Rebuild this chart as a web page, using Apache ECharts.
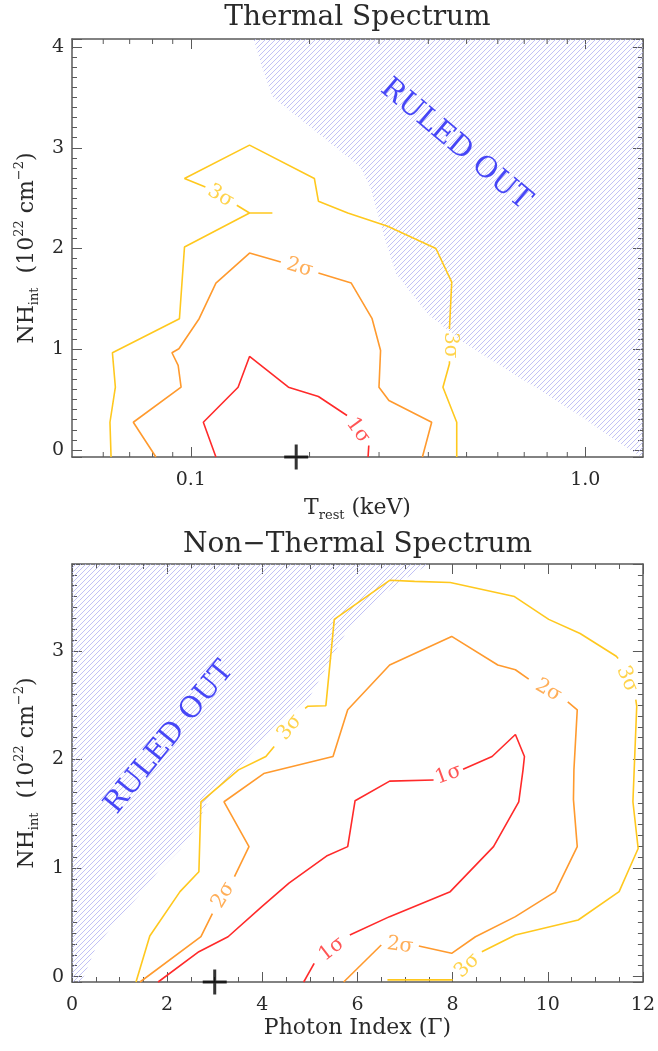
<!DOCTYPE html>
<html>
<head>
<meta charset="utf-8">
<script src="https://cdn.jsdelivr.net/npm/echarts@6.0.0/dist/echarts.min.js"></script>
<style>
html,body{margin:0;padding:0;background:#ffffff;}
#chart{width:658px;height:1051px;}
</style>
</head>
<body>
<div id="chart"></div>
<script>
// ===================== DATA =====================
// ---- Thermal spectrum panel: x = T_rest (keV, log axis), y = NH_int (1e22 cm^-2)
const thermalTRange = [0.05, 1.4];
const thermalNHRange = [-0.07, 4.08];
const thermalMajorT = [0.1, 1.0];
const thermalMajorTLabels = ['0.1', '1.0'];
const thermalMinorT = [0.06, 0.07, 0.08, 0.09, 0.2, 0.3, 0.4, 0.5, 0.6, 0.7, 0.8, 0.9];
const thermalBest = [0.185, -0.07];

const thermal3sigA = [[0.0628,-0.07],[0.0624,0.275],[0.0644,0.623],[0.0633,0.965],[0.0936,1.303],[0.0964,2.015],[0.1409,2.353],[0.161,2.353]];
const thermal3sigB = [[0.1409,2.353],[0.1308,2.43]];
const thermal3sigC = [[0.1089,2.611],[0.0964,2.695],[0.1409,3.026],[0.2057,2.695],[0.2106,2.47],[0.25,2.353],[0.3155,2.22],[0.4181,2.0],[0.4585,1.667],[0.4525,1.2]];
const thermal3sigD = [[0.4525,0.88],[0.4525,0.856],[0.4356,0.623],[0.4721,0.275],[0.4721,-0.07]];
const thermal2sigA = [[0.0816,-0.07],[0.0715,0.275],[0.0945,0.623],[0.0929,0.839],[0.0896,0.965],[0.0933,1.005],[0.105,1.303],[0.1158,1.657],[0.1409,1.955],[0.1691,1.866]];
const thermal2sigB = [[0.2106,1.757],[0.2551,1.657],[0.2881,1.303],[0.3027,0.988],[0.2999,0.623],[0.3178,0.491],[0.4079,0.275],[0.3864,-0.07]];
const thermal1sigA = [[0.1158,-0.07],[0.1076,0.275],[0.1318,0.623],[0.1409,0.928],[0.1768,0.623],[0.2106,0.531],[0.2489,0.342]];
const thermal1sigB = [[0.2826,0.044],[0.2814,-0.07]];

const thermalLabelText = ['3σ', '3σ', '2σ', '1σ'];
const thermalLabelPos = [[0.119,2.52],[0.455,1.04],[0.1888,1.811],[0.2652,0.193]];
const thermalLabelLevel = [3, 3, 2, 1];

const thermalRuledT  = [0.1443,0.1515,0.161,0.182,0.2106,0.2692,0.2859,0.3042,0.3114,0.3312,0.398,0.4839,0.6176,0.770,0.983,1.196,1.39,1.4,1.4];
const thermalRuledNH = [4.08,3.804,3.506,3.341,3.142,2.81,2.595,2.214,2.08,1.751,1.353,1.087,0.822,0.59,0.325,0.093,-0.07,-0.07,4.08];
const thermalRuledLabelPos = [0.469, 3.03];

// ---- Non-thermal spectrum panel: x = photon index, y = NH_int
const nonthGRange = [0, 12];
const nonthNHRange = [-0.05, 3.8];
const nonthBest = [3.0, -0.05];

const nonth3sigA = [[1.345,-0.05],[1.635,0.374],[2.27,0.782],[2.667,0.966],[2.71,1.61],[3.50,1.904],[4.075,2.027],[4.25,2.12]];
const nonth3sigB = [[4.9,2.47],[4.958,2.49],[5.336,2.495],[5.513,3.29],[6.677,3.65],[7.2,3.64],[7.95,3.63],[9.30,3.50],[10.02,3.29],[10.68,3.16],[11.44,2.95],[11.48,2.93]];
const nonth3sigC = [[11.85,2.55],[11.87,2.49],[11.79,1.61],[11.90,1.18],[11.70,0.982],[11.50,0.782],[10.64,0.521],[9.32,0.383],[8.615,0.229]];
const nonth3sigD = [[8.0,-0.03],[6.63,-0.03]];
const nonth2sigA = [[1.43,-0.05],[2.71,0.367],[2.95,0.58]];
const nonth2sigB = [[3.415,0.92],[3.72,1.197],[3.195,1.61],[4.03,1.87],[5.486,2.027],[5.795,2.457],[6.677,2.87],[7.98,3.133],[8.95,2.87],[9.32,2.826],[9.6,2.74]];
const nonth2sigC = [[10.42,2.53],[10.62,2.457],[10.55,1.904],[10.54,1.63],[10.62,1.197],[10.16,0.782],[9.32,0.552],[8.48,0.367],[7.98,0.214],[7.29,0.282]];
const nonth2sigD = [[6.5,0.291],[5.71,-0.05]];
const nonth1sigA = [[1.81,-0.05],[2.667,0.229],[3.28,0.367],[3.99,0.644],[4.56,0.86],[5.35,1.11],[5.795,1.197],[5.95,1.62],[6.677,1.80],[7.60,1.81]];
const nonth1sigB = [[8.22,1.91],[8.83,2.027],[9.32,2.23],[9.51,2.027],[9.48,1.904],[9.39,1.61],[8.86,1.197],[7.95,0.782],[6.675,0.552],[5.84,0.383]];
const nonth1sigC = [[5.09,0.122],[4.87,-0.05]];

const nonthLabelText = ['3σ', '3σ', '2σ', '1σ', '2σ', '1σ', '2σ', '3σ'];
const nonthLabelPos = [[4.575,2.295],[11.665,2.74],[10.01,2.635],[7.91,1.86],[3.18,0.75],[5.465,0.2525],[6.895,0.287],[8.31,0.10]];
const nonthLabelLevel = [3, 3, 2, 1, 2, 1, 2, 3];

const nonthRuledG  = [7.51,6.95,6.5,5.79,5.0,4.21,3.59,2.886,2.62,2.27,1.83,1.39,0.948,0.507,0.2,0,0];
const nonthRuledNH = [3.8,3.65,3.5,3.195,2.58,2.27,1.966,1.66,1.38,1.167,0.98,0.737,0.52,0.275,-0.05,-0.05,3.8];
const nonthRuledLabelPos = [2.05, 2.2];

// ===================== STYLE =====================
const FONT = '"DejaVu Serif", serif';
const AX = '#5a5a5a';
const TXT = '#2a2a2a';
const LEVEL_COLOR = {1: '#ff2a2a', 2: '#ff9a2e', 3: '#ffc81e'};
const thermalLabelRot = [-30, -90, -16, -54];
const nonthLabelRot = [51, -67, -30, 20, 59, 38, -8, 44];

function makeHatch() {
  const c = document.createElement('canvas');
  c.width = 5; c.height = 5;
  const g = c.getContext('2d');
  g.strokeStyle = '#b3b3f2';
  g.lineWidth = 0.8;
  g.beginPath();
  g.moveTo(0, 5); g.lineTo(5, 0);
  g.moveTo(-1, 1); g.lineTo(1, -1);
  g.moveTo(4, 6); g.lineTo(6, 4);
  g.stroke();
  return c;
}
const hatch = {image: makeHatch(), repeat: 'repeat'};

const chart = echarts.init(document.getElementById('chart'), null, {renderer: 'canvas'});

const nameRich = {
  n: {fontFamily: FONT, fontSize: 22, color: TXT, lineHeight: 28, verticalAlign: 'middle'},
  s: {fontFamily: FONT, fontSize: 13, color: TXT, lineHeight: 13, verticalAlign: 'bottom'},
  p: {fontFamily: FONT, fontSize: 13, color: TXT, lineHeight: 13, verticalAlign: 'top'}
};

function isMajor(v, arr) {
  return arr.findIndex(m => Math.abs(Math.log10(m) - Math.log10(v)) < 1e-6);
}

function baseAxis(extra) {
  return Object.assign({
    axisLine: {show: true, onZero: false, lineStyle: {color: AX, width: 1.5}},
    axisTick: {show: true, inside: true, length: 10, lineStyle: {color: AX, width: 1}},
    splitLine: {show: false},
    axisLabel: {show: false},
    animation: false
  }, extra);
}

const labelStyle = {fontFamily: FONT, fontSize: 19, color: TXT};

const xAxes = [
  baseAxis({gridIndex: 0, type: 'log', logBase: 10, position: 'bottom', min: thermalTRange[0], max: thermalTRange[1],
    axisLabel: Object.assign({show: true, margin: 14, showMinLabel: false, showMaxLabel: false,
      formatter: v => { const i = isMajor(v, thermalMajorT); return i >= 0 ? thermalMajorTLabels[i] : ''; }}, labelStyle),
    name: '{n|T}{s|rest}{n| (keV)}', nameLocation: 'middle', nameGap: 37,
    nameTextStyle: {rich: nameRich}}),
  baseAxis({gridIndex: 0, type: 'log', logBase: 10, position: 'top', min: thermalTRange[0], max: thermalTRange[1]}),
  baseAxis({gridIndex: 1, type: 'value', position: 'bottom', min: nonthGRange[0], max: nonthGRange[1], interval: 2,
    minorTick: {show: true, splitNumber: 4, length: 5, lineStyle: {color: AX, width: 1}},
    axisLabel: Object.assign({show: true, margin: 14}, labelStyle),
    name: 'Photon Index (Γ)', nameLocation: 'middle', nameGap: 35,
    nameTextStyle: {fontFamily: FONT, fontSize: 22, color: TXT}}),
  baseAxis({gridIndex: 1, type: 'value', position: 'top', min: nonthGRange[0], max: nonthGRange[1], interval: 2,
    minorTick: {show: true, splitNumber: 4, length: 5, lineStyle: {color: AX, width: 1}}})
];

const yName = '{n|NH}{s|int}{n|  (10}{p|22}{n| cm}{p|−2}{n|)}';
function yAxisPair(gi, range) {
  return [
    baseAxis({gridIndex: gi, type: 'value', position: 'left', min: range[0], max: range[1],
      minorTick: {show: true, splitNumber: 10, length: 5, lineStyle: {color: AX, width: 1}},
      axisLabel: Object.assign({show: true, margin: 8, showMinLabel: false, showMaxLabel: false,
        formatter: v => (Math.abs(v - Math.round(v)) < 1e-9 ? String(Math.round(v)) : '')}, labelStyle),
      name: yName, nameLocation: 'middle', nameRotate: 90, nameGap: 29, nameTextStyle: {rich: nameRich}}),
    baseAxis({gridIndex: gi, type: 'value', position: 'right', min: range[0], max: range[1],
      minorTick: {show: true, splitNumber: 10, length: 5, lineStyle: {color: AX, width: 1}}})
  ];
}
const yAxes = yAxisPair(0, thermalNHRange).concat(yAxisPair(1, nonthNHRange));

const series = [];

function hatchSeries(xi, yi, xs, ys) {
  return {type: 'custom', xAxisIndex: xi, yAxisIndex: yi, clip: true, silent: true, z: 1,
    data: [[xs[0], ys[0]]],
    renderItem: (params, api) => ({
      type: 'polygon',
      shape: {points: xs.map((x, i) => api.coord([x, ys[i]]))},
      style: {fill: hatch, stroke: null}
    })};
}
series.push(hatchSeries(0, 0, thermalRuledT, thermalRuledNH));
series.push(hatchSeries(2, 2, nonthRuledG, nonthRuledNH));

// minor ticks for the log axis (bottom and top edges)
series.push({type: 'custom', xAxisIndex: 0, yAxisIndex: 0, clip: false, silent: true, z: 2,
  data: thermalMinorT.map(t => [t, thermalNHRange[0]]),
  renderItem: (params, api) => {
    const v = api.value(0);
    const b = api.coord([v, thermalNHRange[0]]);
    const t = api.coord([v, thermalNHRange[1]]);
    return {type: 'group', children: [
      {type: 'line', shape: {x1: b[0], y1: b[1], x2: b[0], y2: b[1] - 5}, style: {stroke: AX, lineWidth: 1}},
      {type: 'line', shape: {x1: t[0], y1: t[1], x2: t[0], y2: t[1] + 5}, style: {stroke: AX, lineWidth: 1}}
    ]};
  }});

function contour(points, level, xi, yi) {
  series.push({type: 'line', xAxisIndex: xi, yAxisIndex: yi, data: points, showSymbol: false, symbol: 'none',
    silent: true, z: 3, clip: false, lineStyle: {color: LEVEL_COLOR[level], width: 1.6}});
}
[[thermal3sigA,3],[thermal3sigB,3],[thermal3sigC,3],[thermal3sigD,3],[thermal2sigA,2],[thermal2sigB,2],[thermal1sigA,1],[thermal1sigB,1]]
  .forEach(([p, l]) => contour(p, l, 0, 0));
[[nonth3sigA,3],[nonth3sigB,3],[nonth3sigC,3],[nonth3sigD,3],[nonth2sigA,2],[nonth2sigB,2],[nonth2sigC,2],[nonth2sigD,2],[nonth1sigA,1],[nonth1sigB,1],[nonth1sigC,1]]
  .forEach(([p, l]) => contour(p, l, 2, 2));

function labels(texts, pos, levels, rots, xi, yi) {
  series.push({type: 'scatter', xAxisIndex: xi, yAxisIndex: yi, symbolSize: 0, clip: false, silent: true, z: 4,
    data: texts.map((t, i) => ({name: t, value: pos[i], label: {rotate: rots[i], color: LEVEL_COLOR[levels[i]]}})),
    label: {show: true, position: 'inside', formatter: '{b}', fontFamily: FONT, fontSize: 20}});
}
labels(thermalLabelText, thermalLabelPos, thermalLabelLevel, thermalLabelRot, 0, 0);
labels(nonthLabelText, nonthLabelPos, nonthLabelLevel, nonthLabelRot, 2, 2);

function ruled(pos, rot, xi, yi) {
  series.push({type: 'scatter', xAxisIndex: xi, yAxisIndex: yi, symbolSize: 0, clip: false, silent: true, z: 4,
    data: [{name: 'RULED OUT', value: pos}],
    label: {show: true, position: 'inside', formatter: '{b}', rotate: rot, fontFamily: FONT, fontSize: 29, color: '#1c1cf5'}});
}
ruled(thermalRuledLabelPos, -40, 0, 0);
ruled(nonthRuledLabelPos, 51, 2, 2);

const crossPath = 'path://M10.5,0H13.5V10.5H24V13.5H13.5V24H10.5V13.5H0V10.5H10.5Z';
series.push({type: 'scatter', xAxisIndex: 0, yAxisIndex: 0, symbol: crossPath, symbolSize: [24, 25], clip: false, silent: true, z: 5,
  itemStyle: {color: '#000'}, data: [thermalBest]});
series.push({type: 'scatter', xAxisIndex: 2, yAxisIndex: 2, symbol: crossPath, symbolSize: [24, 25], clip: false, silent: true, z: 5,
  itemStyle: {color: '#000'}, data: [nonthBest]});

chart.setOption({
  animation: false,
  backgroundColor: '#ffffff',
  grid: [
    {left: 72, top: 39, width: 571, height: 418, containLabel: false},
    {left: 72, top: 564, width: 571, height: 418, containLabel: false}
  ],
  xAxis: xAxes,
  yAxis: yAxes,
  series: series,
  graphic: [
    {type: 'text', x: 357.5, y: 18, silent: true,
      style: {text: 'Thermal Spectrum', fontFamily: FONT, fontSize: 28, fill: TXT, align: 'center', verticalAlign: 'middle'}},
    {type: 'text', x: 357.5, y: 545, silent: true,
      style: {text: 'Non−Thermal Spectrum', fontFamily: FONT, fontSize: 28, fill: TXT, align: 'center', verticalAlign: 'middle'}}
  ]
});
</script>
</body>
</html>
